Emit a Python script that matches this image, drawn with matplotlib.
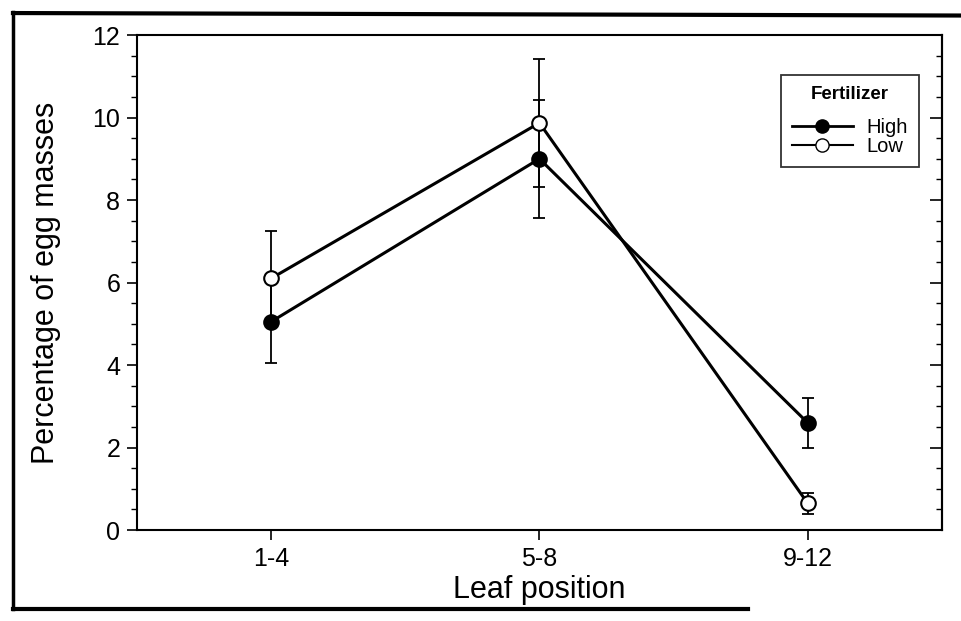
import matplotlib
matplotlib.use("Agg")
import matplotlib.pyplot as plt
from matplotlib.ticker import MultipleLocator
from matplotlib.lines import Line2D

plt.rcParams['font.family'] = ['Liberation Sans', 'DejaVu Sans']

categories = ["1-4", "5-8", "9-12"]
high_vals = [5.05, 9.0, 2.6]
high_err = [1.0, 1.43, 0.6]
low_vals = [6.1, 9.87, 0.65]
low_err = [1.15, 1.56, 0.25]

fig = plt.figure(figsize=(9.61, 6.21), dpi=100)
ax = fig.add_axes([0.1426, 0.1465, 0.8374, 0.7971])

x = list(range(1, len(categories) + 1))

# error bars
ax.errorbar(x, high_vals, yerr=high_err, fmt='none', ecolor='black',
            elinewidth=1.3, capsize=4, capthick=1.3, zorder=2)
ax.errorbar(x, low_vals, yerr=low_err, fmt='none', ecolor='black',
            elinewidth=1.3, capsize=4, capthick=1.3, zorder=2)
# lines
ax.plot(x, high_vals, color='black', lw=2.2, zorder=3)
ax.plot(x, low_vals, color='black', lw=2.2, zorder=3)
# markers
ax.plot(x, high_vals, 'o', color='black', mfc='black', mec='black',
        ms=10.5, mew=1.5, zorder=4, ls='none')
ax.plot(x, low_vals, 'o', color='black', mfc='white', mec='black',
        ms=10.5, mew=1.5, zorder=4, ls='none')

ax.set_xlim(0.5, 3.5)
ax.set_ylim(0, 12)
ax.set_xticks(x)
ax.set_xticklabels(categories)
ax.yaxis.set_major_locator(MultipleLocator(2))
ax.yaxis.set_minor_locator(MultipleLocator(0.5))

ax.tick_params(axis='y', which='major', direction='out', length=7, width=1.2,
               labelsize=18, pad=5)
ax.tick_params(axis='y', which='minor', direction='out', length=4, width=1.0)
ax.tick_params(axis='x', which='major', direction='out', length=7, width=1.2,
               labelsize=18, pad=5)
ax.tick_params(axis='x', which='minor', bottom=False)
ax.tick_params(axis='y', which='both', right=False)

# right ticks inward
sec = ax.secondary_yaxis('right')
sec.yaxis.set_major_locator(MultipleLocator(2))
sec.yaxis.set_minor_locator(MultipleLocator(0.5))
sec.tick_params(which='major', direction='in', length=9, width=1.2, labelright=False)
sec.tick_params(which='minor', direction='in', length=4, width=1.0)
sec.set_yticklabels([])
sec.spines['right'].set_linewidth(1.5)

for s in ax.spines.values():
    s.set_linewidth(1.5)

ax.set_xlabel("Leaf position", fontsize=22)
ax.xaxis.set_label_coords(0.5, -0.09)
ax.set_ylabel("Percentage of egg masses", fontsize=22)
ax.yaxis.set_label_coords(-0.094, 0.5)

handles = [
    Line2D([], [], color='black', lw=2, marker='o', mfc='black', mec='black', ms=9.5),
    Line2D([], [], color='black', lw=1.5, marker='o', mfc='white', mec='black', ms=9.5),
]
leg = ax.legend(handles, ["High", "Low"], title="Fertilizer", loc='upper right',
                bbox_to_anchor=(0.972, 0.92), fontsize=14.5,
                title_fontproperties={'size': 13.5, 'weight': 'bold'},
                frameon=True, fancybox=False, edgecolor='black',
                handlelength=3.0, handletextpad=0.7, labelspacing=0.02,
                borderpad=0.55, borderaxespad=0)
leg.get_frame().set_linewidth(1.3)
leg._legend_box.sep = 11

# figure border (scan frame)
fig.add_artist(Line2D([0.0135, 0.0135], [0.019, 0.98], transform=fig.transFigure,
                      color='black', lw=2.5))
fig.add_artist(Line2D([0.0135, 1.0], [0.979, 0.975], transform=fig.transFigure,
                      color='black', lw=3))
fig.add_artist(Line2D([0.0135, 0.778], [0.019, 0.019], transform=fig.transFigure,
                      color='black', lw=3))

fig.savefig("out.png", dpi=100)
